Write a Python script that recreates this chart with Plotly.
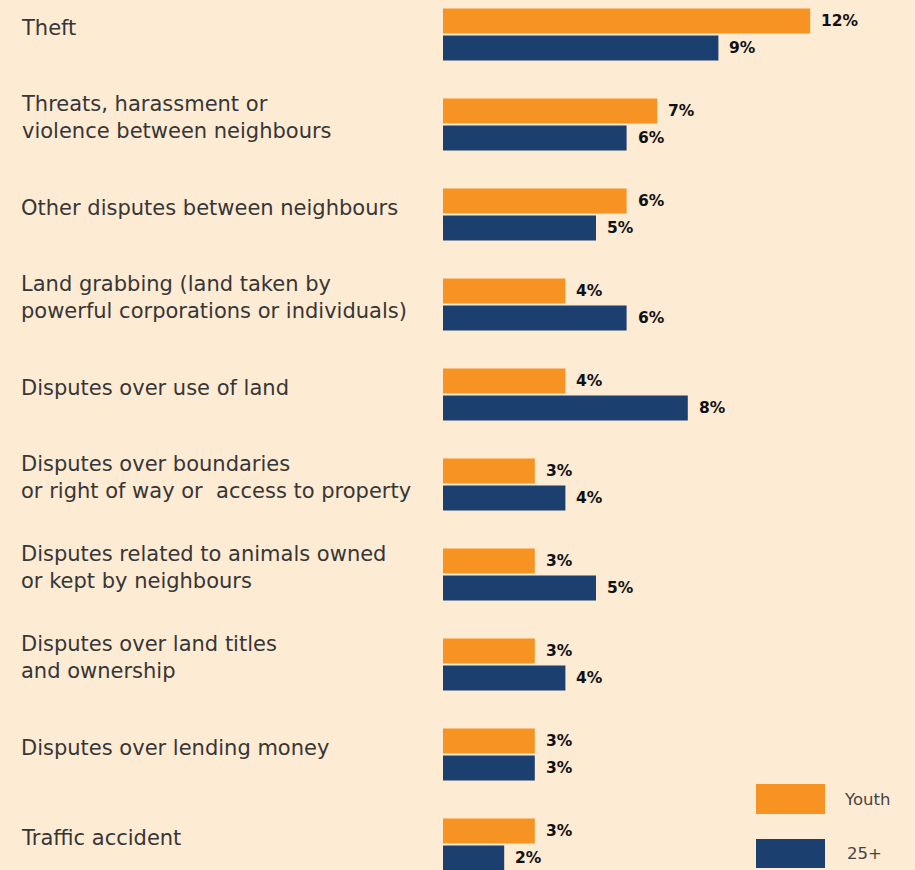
import plotly.graph_objects as go

# Share of respondents reporting each type of problem, by age group
categories = [
    "Theft",
    "Threats, harassment or<br>violence between neighbours",
    "Other disputes between neighbours",
    "Land grabbing (land taken by<br>powerful corporations or individuals)",
    "Disputes over use of land",
    "Disputes over boundaries<br>or right of way or  access to property",
    "Disputes related to animals owned<br>or kept by neighbours",
    "Disputes over land titles<br>and ownership",
    "Disputes over lending money",
    "Traffic accident",
]
youth = [12, 7, 6, 4, 4, 3, 3, 3, 3, 3]
adults = [9, 6, 5, 6, 8, 4, 5, 4, 3, 2]
series_names = ["Youth", "25+"]

BG = "#FEEBD4"
ORANGE = "#F79322"
BLUE = "#1B3F6F"
TEXT = "#363636"
LABEL_FONT = "DejaVu Sans"
W, H = 915, 870
ML, MR = 443, 13
PLOT_W = W - ML - MR

def px_x(p):
    return (p - ML) / PLOT_W

def px_y(p):
    return 1 - p / H

fig = go.Figure()
fig.add_trace(go.Bar(y=categories, x=youth, orientation="h", name=series_names[0],
                     marker=dict(color=ORANGE, line=dict(width=0))))
fig.add_trace(go.Bar(y=categories, x=adults, orientation="h", name=series_names[1],
                     marker=dict(color=BLUE, line=dict(width=0))))

ann = []
# category labels, left aligned at the page edge
for cat in categories:
    ann.append(dict(x=px_x(19), xref="paper", y=cat, yref="y", text=cat,
                    xanchor="left", yanchor="middle", align="left", showarrow=False,
                    yshift=7,
                    font=dict(family=LABEL_FONT, size=21, color=TEXT)))

# value labels next to each bar
for vals, ys in ((youth, 13.5), (adults, -13.5)):
    for cat, v in zip(categories, vals):
        ann.append(dict(x=v, xref="x", y=cat, yref="y", text=f"<b>{v}%</b>",
                        xanchor="left", yanchor="middle", showarrow=False,
                        xshift=9, yshift=ys,
                        font=dict(family=LABEL_FONT, size=15.5, color="#111111")))

# legend swatches and labels
shapes = []
for (y0, y1), color, name, tx in (((784, 814), ORANGE, series_names[0], 842),
                                  ((839, 868), BLUE, series_names[1], 845)):
    shapes.append(dict(type="rect", xref="paper", yref="paper",
                       x0=px_x(756), x1=px_x(825), y0=px_y(y1), y1=px_y(y0),
                       fillcolor=color, line=dict(width=0)))
    ann.append(dict(x=px_x(tx), xref="paper", y=px_y((y0 + y1) / 2), yref="paper",
                    text=name, xanchor="left", yanchor="middle", showarrow=False,
                    font=dict(family=LABEL_FONT, size=16.5, color="#444444")))

fig.update_layout(
    width=W, height=H,
    margin=dict(l=ML, r=MR, t=0, b=0),
    paper_bgcolor=BG, plot_bgcolor=BG,
    barmode="group", bargap=0.4, bargroupgap=0.074,
    showlegend=False,
    xaxis=dict(range=[0, 15], visible=False, fixedrange=True),
    yaxis=dict(type="category", categoryorder="array", categoryarray=categories,
               range=[(H - 34.5) / 90, -34.5 / 90], visible=False, fixedrange=True),
    annotations=ann,
    shapes=shapes,
)

fig.write_html("out.html", config={"displayModeBar": False})
